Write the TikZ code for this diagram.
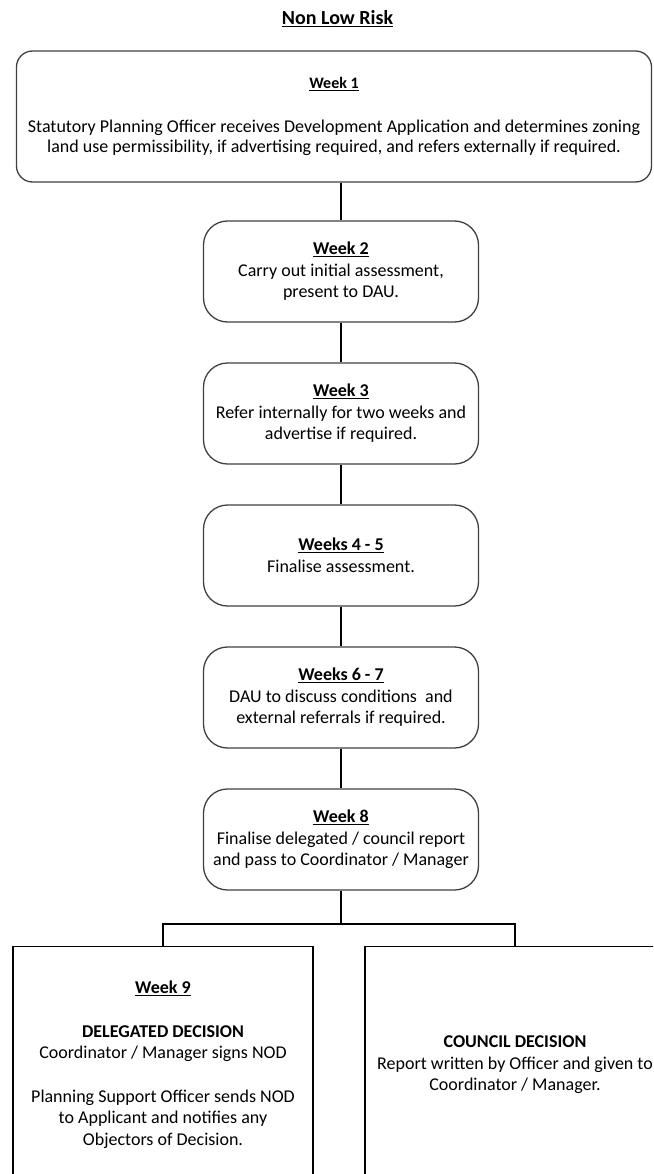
\documentclass[tikz,border=0pt]{standalone}
\usepackage{fontspec}
\setmainfont{Carlito}

\begin{document}
\begin{tikzpicture}[x=1pt,y=-1pt,
        rbox/.style={draw=black!75,line width=1.3pt,rounded corners=24pt,
            minimum width=275pt,minimum height=101pt,align=center,inner sep=2pt,
            font=\fontsize{18}{21.5}\selectfont},
        sbox/.style={draw,line width=1.3pt,minimum width=300pt,minimum height=236pt,
            anchor=north,align=center,font=\fontsize{18}{21.5}\selectfont},
        link/.style={line width=1.2pt}]
            % page frame, boxes run off the right and bottom edge
            \useasboundingbox (0,0) rectangle (653,1174);
            \clip (0,0) rectangle (653,1174);
            \node[font=\fontsize{20}{24}\selectfont\bfseries] (title) at (337.5,19) {\underline{Non Low Risk}};
            % week 1
            \node[rbox,rounded corners=16pt,minimum width=635pt,minimum height=131pt,
                font=\fontsize{18}{20}\selectfont] (wk1) at (334,116.5)
                {{\fontsize{16}{20}\selectfont\textbf{\underline{Week 1}}}\\[24pt]
                Statutory Planning Officer receives Development Application and determines zoning\\
                land use permissibility, if advertising required, and refers externally if required.};
            % weeks 2 to 8
            \node[rbox] (wk2) at (341,271.5) {\textbf{\underline{Week 2}}\\Carry out initial assessment,\\present to DAU.};
            \node[rbox] (wk3) at (341,413.5) {\textbf{\underline{Week 3}}\\Refer internally for two weeks and\\advertise if required.};
            \node[rbox] (wk4) at (341,555.5) {\textbf{\underline{Weeks 4 - 5}}\\Finalise assessment.};
            \node[rbox] (wk5) at (341,697.5) {\textbf{\underline{Weeks 6 - 7}}\\DAU to discuss conditions\ \ and\\external referrals if required.};
            \node[rbox] (wk8) at (341,839.5) {\textbf{\underline{Week 8}}\\Finalise delegated / council report\\and pass to Coordinator / Manager};
            % week 9, the two decisions
            \node[sbox] (dele) at (163,946) {\textbf{\underline{Week 9}}\\[22pt]
                \textbf{DELEGATED DECISION}\\Coordinator / Manager signs NOD\\[22pt]
                Planning Support Officer sends NOD\\to Applicant and notifies any\\Objectors of Decision.};
            \node[sbox] (coun) at (515,946) {\textbf{COUNCIL DECISION}\\Report written by Officer and given to\\Coordinator / Manager.};
            % connectors
            \draw[link] (wk2.north |- wk1.south) -- (wk2.north);
            \foreach \a/\b in {wk2/wk3,wk3/wk4,wk4/wk5,wk5/wk8}
                \draw[link] (\a.south) -- (\b.north);
            \coordinate (split) at (341,924);
            \draw[link] (wk8.south) -- (split);
            \draw[link] (dele.north) |- (split) -| (coun.north);
        \end{tikzpicture}
\end{document}
